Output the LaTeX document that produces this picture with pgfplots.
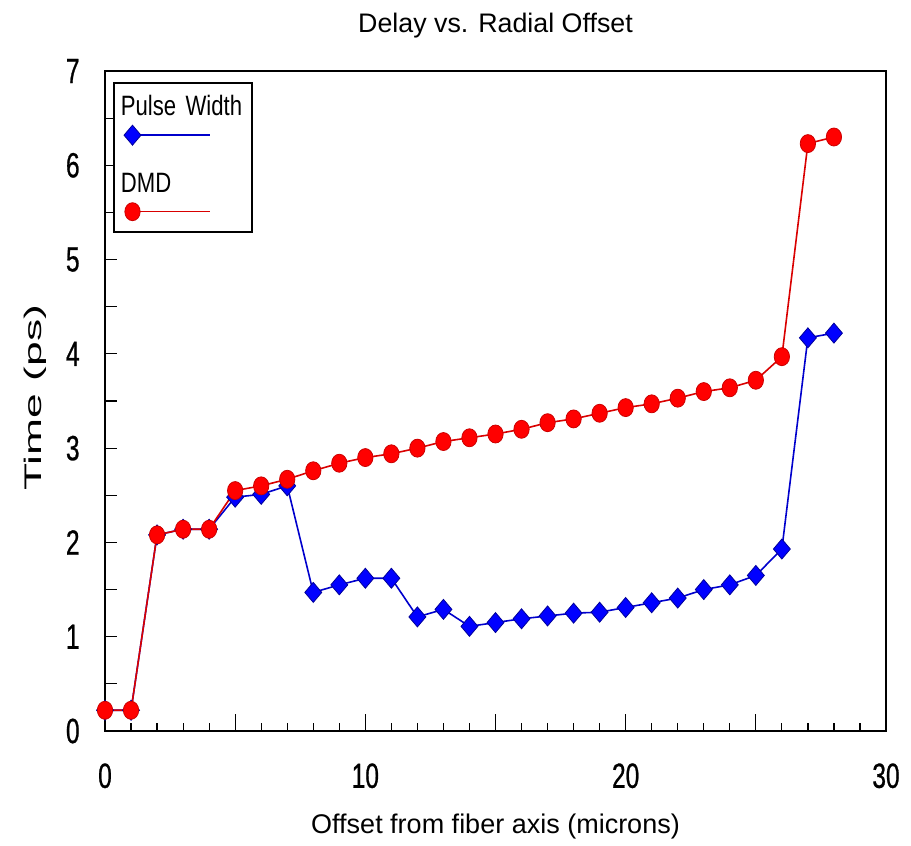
\documentclass[border=0pt]{standalone}
\usepackage{fontspec}
\setmainfont{Liberation Sans}
\newfontfamily\tickfont[FakeStretch=0.7,FakeBold=0.7]{Liberation Sans}
\newfontfamily\legfont[FakeStretch=0.79]{Liberation Sans}
\newfontfamily\ylabfont[FakeStretch=1.85]{Liberation Sans}
\usepackage{pgfplots}
\pgfplotsset{compat=1.18}

\begin{document}
\begin{tikzpicture}
\begin{axis}[
  name=ax, at={(0,0)}, anchor=south west,
  scale only axis, width=390.5bp, height=330bp,
  xmin=0, xmax=30, ymin=0, ymax=7,
  axis line style={line width=1.1bp},
  tick align=inside, tick pos=left,
  major tick length=8.5bp, minor tick length=4bp,
  tick style={line width=0.6bp, black},
  xtick={0,5,...,30}, xticklabels={0,,10,,20,,30},
  minor xtick={0,1,...,30},
  ytick=\empty,
  extra y ticks={0,0.5,...,7},
  extra y tick labels={0,,1,,2,,3,,4,,5,,6,,7},
  extra y tick style={major tick length=6bp},
  xticklabel style={font=\tickfont\fontsize{17.5bp}{18bp}\selectfont, anchor=north, inner sep=0pt, yshift=-16bp},
  yticklabel style={font=\tickfont\fontsize{17.5bp}{18bp}\selectfont, anchor=east, inner sep=0pt, xshift=-12.5bp},
  title={Delay vs. Radial Offset},
  title style={at={(axis description cs:0.5,1)}, anchor=base, yshift=13.5bp, inner sep=0pt, font=\fontsize{13.4bp}{14bp}\selectfont},
  xlabel={Offset from fiber axis (microns)},
  xlabel style={at={(axis description cs:0.5,0)}, anchor=base, yshift=-51bp, inner sep=0pt, font=\fontsize{13.5bp}{14bp}\selectfont},
  ylabel={Time (ps)},
  ylabel style={at={(axis description cs:-0.0807,0.505)}, anchor=base, inner sep=0pt, font=\ylabfont\fontsize{12bp}{12bp}\selectfont},
  legend style={at={(axis description cs:0.00986,0.9829)}, anchor=north west, draw=black, line width=1bp,
    inner xsep=2.8bp, inner ysep=6.35bp, column sep=0pt, row sep=14.9bp,
    cells={anchor=base west},
    nodes={inner sep=0pt, text height=10bp, text depth=0pt, text width=62.7bp, font=\legfont\fontsize{14bp}{14bp}\selectfont}},
  legend image code/.code={
    \draw[#1, overlay, mark repeat=2, mark phase=1] plot coordinates {(6.2bp,-9.6bp) (45bp,-9.6bp)};
    \path (0bp,0bp) (0bp,-12.95bp);
  },
]
\addplot[color=blue!80!black, line width=0.8bp, mark=diamond*, mark size=5bp,
  mark options={xscale=1.13, fill=blue, draw=blue!60!black, line width=0.4bp}]
  coordinates {
  (0,0.22) (1,0.22) (2,2.08) (3,2.14) (4,2.14) (5,2.48) (6,2.51) (7,2.60)
  (8,1.47) (9,1.55) (10,1.62) (11,1.62) (12,1.21) (13,1.29) (14,1.11)
  (15,1.15) (16,1.19) (17,1.22) (18,1.25) (19,1.26) (20,1.31) (21,1.36)
  (22,1.41) (23,1.50) (24,1.55) (25,1.65) (26,1.93) (27,4.17) (28,4.22)
  };
\addlegendentry{Pulse Width}
\addplot[color=red!85!black, line width=0.8bp, mark=*, mark size=4.5bp,
  mark options={xscale=0.85, fill=red, draw=red!80!black, line width=0.4bp}]
  coordinates {
  (0,0.22) (1,0.22) (2,2.08) (3,2.14) (4,2.14) (5,2.55) (6,2.60) (7,2.67)
  (8,2.76) (9,2.84) (10,2.90) (11,2.94) (12,3.00) (13,3.07) (14,3.11)
  (15,3.15) (16,3.20) (17,3.27) (18,3.31) (19,3.37) (20,3.43) (21,3.47)
  (22,3.53) (23,3.60) (24,3.64) (25,3.72) (26,3.97) (27,6.23) (28,6.30)
  };
\addlegendentry{DMD}
\end{axis}
\pgfresetboundingbox
\path ([shift={(-52.5bp,-57.5bp)}]ax.south west) rectangle ([shift={(12.5bp,35.5bp)}]ax.north east);
\end{tikzpicture}
\end{document}
